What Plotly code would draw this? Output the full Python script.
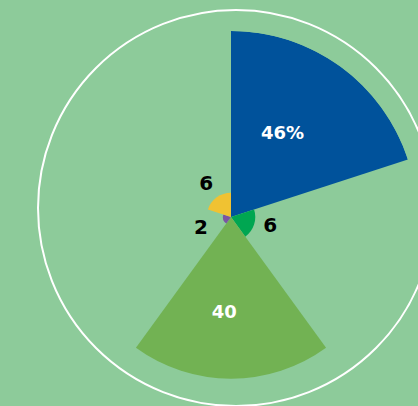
import plotly.graph_objects as go

# data
categories = ['A', 'B', 'C', 'D', 'E']
values = [46, 6, 40, 2, 6]
labels = ['46%', '6', '40', '2', '6']
colors = ['#00529b', '#00a651', '#72b253', '#7b54a3', '#f0c232']

W, H = 418, 406
bg = '#8dcb9a'

n = len(values)
width = 360 / n
thetas = [width / 2 + i * width for i in range(n)]

# labels inside big sectors, just outside the small ones
label_nudge = [-4, -4, 4, -4, -2]
label_theta = [t + d for t, d in zip(thetas, label_nudge)]
label_r = [24 if v > 10 else max(v + 4, 8) for v in values]
label_color = ['white' if v > 10 else 'black' for v in values]
label_size = [18 if v > 10 else 20 for v in values]

fig = go.Figure()
fig.add_trace(go.Barpolar(
    r=values,
    theta=thetas,
    width=[width] * n,
    marker=dict(color=colors, line=dict(width=0)),
    hoverinfo='skip',
))
fig.add_trace(go.Scatterpolar(
    r=label_r,
    theta=label_theta,
    mode='text',
    text=['<b>' + t + '</b>' for t in labels],
    textfont=dict(family='DejaVu Sans', color=label_color, size=label_size),
    hoverinfo='skip',
))

# white outer ring
cx, cy, rr = 236, 208, 198
fig.add_shape(
    type='circle', xref='paper', yref='paper',
    x0=(cx - rr) / W, x1=(cx + rr) / W,
    y0=1 - (cy + rr) / H, y1=1 - (cy - rr) / H,
    line=dict(color='white', width=2),
)

# polar centred at (231, 217) px, 46 -> 186 px
pcx, pcy, pr = 231, 217, 186
fig.update_layout(
    width=W, height=H,
    margin=dict(l=0, r=0, t=0, b=0),
    paper_bgcolor=bg,
    plot_bgcolor=bg,
    showlegend=False,
    polar=dict(
        domain=dict(x=[(pcx - pr) / W, (pcx + pr) / W],
                    y=[1 - (pcy + pr) / H, 1 - (pcy - pr) / H]),
        bgcolor='rgba(0,0,0,0)',
        bargap=0,
        radialaxis=dict(visible=False, range=[0, max(values)]),
        angularaxis=dict(visible=False, rotation=90, direction='clockwise'),
    ),
)

fig.write_html('out.html', config={'displayModeBar': False},
               post_script="document.body.style.margin='0';")
